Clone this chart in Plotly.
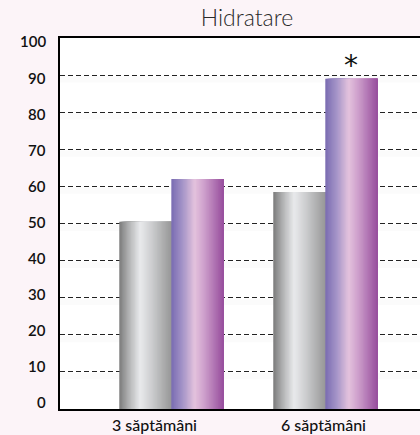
import plotly.graph_objects as go

# Data
categories = ["3 săptămâni", "6 săptămâni"]
control = [50.5, 58.5]      # gray bars
treated = [62, 89]          # purple bars
y_ticks = [0, 10, 20, 30, 40, 50, 60, 70, 80, 90, 100]
title_text = "Hidratare"
marker_text = "*"

# Styling
BG = "#fcf4f8"
BAR_W = 0.338
N_SLICES = 40
gray_stops = [(0.0, "#7b7b7b"), (0.2, "#b6b7b8"), (0.4, "#e9eaec"),
              (0.62, "#cdced0"), (1.0, "#979797")]
purple_stops = [(0.0, "#7a6cb2"), (0.22, "#a595c8"), (0.45, "#e4c2dd"),
                (0.62, "#cfa2cd"), (1.0, "#974e9d")]


def hex_to_rgb(h):
    h = h.lstrip("#")
    return tuple(int(h[i:i + 2], 16) for i in (0, 2, 4))


def color_at(stops, t):
    for (t0, c0), (t1, c1) in zip(stops, stops[1:]):
        if t0 <= t <= t1:
            f = (t - t0) / (t1 - t0) if t1 > t0 else 0
            a, b = hex_to_rgb(c0), hex_to_rgb(c1)
            r = [round(a[k] + (b[k] - a[k]) * f) for k in range(3)]
            return f"rgb({r[0]},{r[1]},{r[2]})"
    return stops[-1][1]


xs = list(range(len(categories)))
fig = go.Figure()

# Each bar is painted as a stack of overlapping vertical strips that
# together give a horizontal colour gradient.
for values, stops, start in ((control, gray_stops, -BAR_W),
                             (treated, purple_stops, 0.0)):
    for i in range(N_SLICES):
        frac = i / N_SLICES
        fig.add_trace(go.Bar(
            x=xs, y=values,
            offset=start + frac * BAR_W,
            width=BAR_W * (1 - frac),
            marker=dict(color=color_at(stops, (i + 0.5) / N_SLICES),
                        line=dict(width=0)),
            hoverinfo="skip", showlegend=False,
        ))

# Soft shading under each grid line
for v in y_ticks[1:-1]:
    fig.add_shape(type="rect", xref="paper", yref="y", x0=0, x1=1,
                  y0=v - 2.0, y1=v - 0.3, layer="below", line=dict(width=0),
                  fillcolor="rgba(0,0,0,0.015)")

# Y tick labels
for k, v in enumerate(y_ticks):
    fig.add_annotation(x=0, xref="paper", xanchor="right", xshift=-12,
                       y=v, yref="y", yanchor="middle",
                       yshift=6.6 - 1.0 * k, text=str(v), showarrow=False,
                       font=dict(family="Lato", size=15, weight=600,
                                 color="#111111"))

# Category labels
label_x = [-0.112, -0.01]
for i, (lx, cat) in enumerate(zip(label_x, categories)):
    fig.add_annotation(x=xs[i] + lx, xref="x",
                       y=0, yref="y", yanchor="top", yshift=-4,
                       text=cat, showarrow=False,
                       font=dict(family="Lato", size=16, weight=500,
                                 color="#111111"))

# Significance marker on the second treated bar
fig.add_annotation(x=xs[1] + BAR_W / 2, xref="x", y=treated[1], yref="y",
                   yanchor="middle", yshift=13, text=marker_text,
                   showarrow=False,
                   font=dict(family="DejaVu Sans", size=28, color="#111111"))

fig.update_layout(
    width=420, height=435,
    margin=dict(l=60, r=0, t=38, b=26),
    paper_bgcolor=BG, plot_bgcolor="white",
    barmode="overlay",
    title=dict(text=title_text, x=0.588, xanchor="center", y=0.958,
               yanchor="middle",
               font=dict(family="Lato", size=23, weight=300,
                         color="#2a2a2a")),
    xaxis=dict(range=[-0.723, 1.615], showticklabels=False, ticks="",
               showgrid=False, zeroline=False, showline=True,
               linecolor="black", linewidth=2, mirror=True, fixedrange=True),
    yaxis=dict(range=[0, 100], tickvals=y_ticks[1:-1], showticklabels=False,
               ticks="", showgrid=True, gridcolor="#222222", gridwidth=1,
               griddash="5px,3px", zeroline=False, showline=True,
               linecolor="black", linewidth=2, fixedrange=True),
)

fig.write_html("out.html")
